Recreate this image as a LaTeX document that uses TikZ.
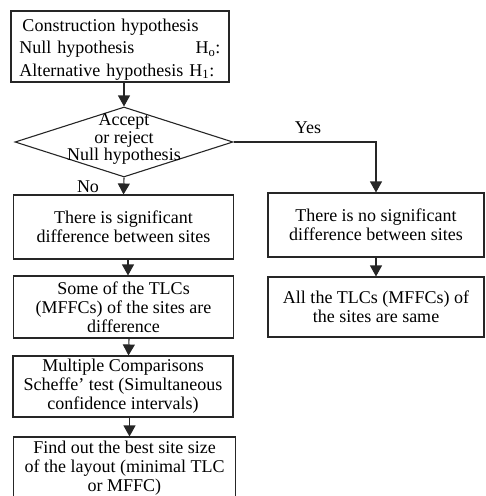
\documentclass[tikz,border=0pt]{standalone}
\usepackage{fontspec}
\setmainfont{Liberation Serif}
\usetikzlibrary{shapes.geometric,arrows.meta}

\begin{document}
\begin{tikzpicture}[x=1pt, y=-1pt, line width=1.1pt,
    box/.style={draw=black!85, rectangle, align=center, inner sep=0pt, font=\fontsize{18}{19}\selectfont},
    decision/.style={draw=black!85, diamond, inner sep=0pt, minimum width=218pt, minimum height=70pt},
    lbl/.style={font=\fontsize{18}{19}\selectfont},
    arr/.style={draw=black!85, -{Triangle[width=12pt,length=11pt]}}]
                \useasboundingbox (0,0) rectangle (486,496);
                \node (hyp) [box, minimum width=218pt, minimum height=71pt] at (120,46.5) {};
                \node (hyptext) [lbl, text width=201pt, align=left, inner sep=0pt, font=\fontsize{18}{22.5}\selectfont] at ([yshift=-3pt]hyp.center)
                    {\hspace*{3pt}Construction hypothesis\\Null hypothesis\hfill H\textsubscript{o}:\\Alternative hypothesis H\textsubscript{1}:};
                \node (dec) [decision] at (124,142) {};
                \node (dectext) [lbl, align=center, inner sep=0pt, font=\fontsize{18}{17.5}\selectfont] at ([yshift=3pt]dec.center) {Accept\\or reject\\Null hypothesis};
                \node (sig) [box, minimum width=220pt, minimum height=64pt] at (123.5,227) {There is significant\\difference between sites};
                \node (some) [box, minimum width=220pt, minimum height=62pt] at (123.5,307) {Some of the TLCs\\(MFFCs) of the sites are\\difference};
                \node (mult) [box, minimum width=220pt, minimum height=61pt] at (123,386.5) {Multiple Comparisons\\Scheffe' test (Simultaneous\\confidence intervals)};
                \node (best) [box, minimum width=222pt, minimum height=62pt] at (124.5,468) {Find out the best site size\\of the layout (minimal TLC\\or MFFC)};
                \node (nosig) [box, minimum width=216pt, minimum height=64pt] at (376,225) {There is no significant\\difference between sites};
                \node (same) [box, minimum width=216pt, minimum height=60pt] at (376,307) {All the TLCs (MFFCs) of\\the sites are same};
                \node (no) [lbl] at (88,187) {No};
                \node (yes) [lbl] at (308,128) {Yes};
                \draw[arr] (hyp.south -| dec.north) -- (dec.north);
                \draw[arr] (dec.south) -- (sig.north);
                \draw[arr] (dec.east) -| (nosig.north);
                \draw[arr] ([xshift=4.5pt]sig.south) -- ([xshift=4.5pt]some.north);
                \draw[arr] ([xshift=5.5pt]some.south) -- ([xshift=5.5pt]mult.north);
                \draw[arr] ([xshift=6.5pt]mult.south) -- ([xshift=6.5pt]mult.south |- best.north);
                \draw[arr] (nosig.south) -- (same.north);
            \end{tikzpicture}
\end{document}
